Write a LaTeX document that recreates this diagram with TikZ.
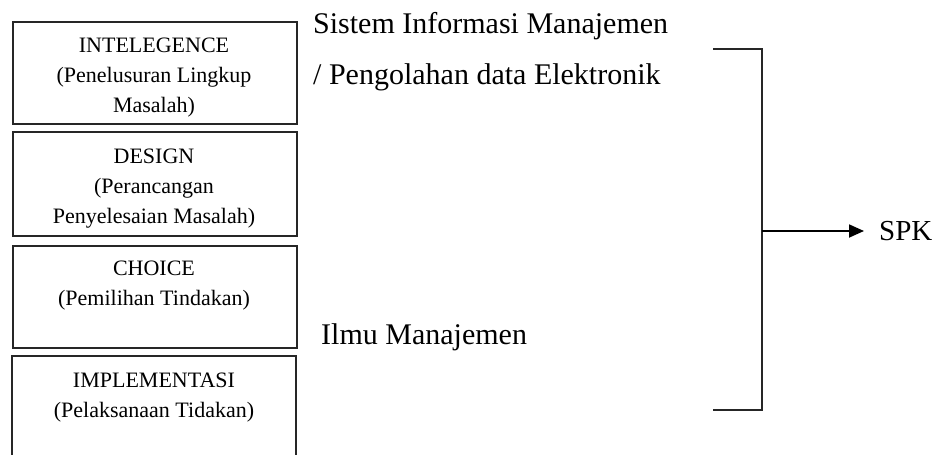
\documentclass[tikz,border=0pt]{standalone}
\usepackage{fontspec}
\setmainfont{Liberation Serif}
\usetikzlibrary{arrows.meta}
\begin{document}
\begin{tikzpicture}[x=1pt,y=-1pt,
  boxline/.style={draw=black!85, line width=1.8pt},
  boxtext/.style={anchor=base, inner sep=0pt, font=\fontsize{22}{30}\selectfont},
  bigtext/.style={anchor=base west, inner sep=0pt, font=\fontsize{30}{36}\selectfont},
  brk/.style={draw=black!85, line width=1.8pt},
  arr/.style={draw=black, line width=1.8pt, -{Triangle[length=15pt,width=13pt]}}]
\useasboundingbox (0,0) rectangle (935,455);
% boxes
\node[boxline, minimum width=284pt, minimum height=102pt, anchor=north west, inner sep=0pt] (b1) at (12,21) {};
\node[boxline, minimum width=284pt, minimum height=104pt, anchor=north west, inner sep=0pt] (b2) at (12,131) {};
\node[boxline, minimum width=284pt, minimum height=102pt, anchor=north west, inner sep=0pt] (b3) at (12,245) {};
\coordinate (b4bl) at (12,456);
\coordinate (b4tl) at (12,356);
\coordinate (b4tr) at (296,356);
\coordinate (b4br) at (296,456);
\draw[boxline] (b4bl) -- (b4tl) -- (b4tr) -- (b4br);
% box texts
\renewcommand{\arraystretch}{1}
\setlength{\tabcolsep}{0pt}
\node[boxtext] (t1) at (154,52) {\begin{tabular}[t]{c}INTELEGENCE\\(Penelusuran Lingkup\\Masalah)\end{tabular}};
\node[boxtext] (t2) at (154,163) {\begin{tabular}[t]{c}DESIGN\\(Perancangan\\Penyelesaian Masalah)\end{tabular}};
\node[boxtext] (t3) at (154,275) {\begin{tabular}[t]{c}CHOICE\\(Pemilihan Tindakan)\end{tabular}};
\node[boxtext] (t4) at (154,387) {\begin{tabular}[t]{c}IMPLEMENTASI\\(Pelaksanaan Tidakan)\end{tabular}};
% big texts
\node[bigtext] (s1) at (313,33) {Sistem Informasi Manajemen};
\node[bigtext] (s2) at (313,84) {/ Pengolahan data Elektronik};
\node[bigtext] (s3) at (321,344) {Ilmu Manajemen};
\node[anchor=base west, inner sep=0pt, font=\fontsize{29}{35}\selectfont] (spk) at (879,240) {SPK};
% bracket
\coordinate (bt0) at (713,49);
\coordinate (bt1) at (762,49);
\coordinate (bb1) at (762,410);
\coordinate (bb0) at (713,410);
\coordinate (bm) at (762,231);
\coordinate (tip) at (864,231);
\draw[brk] (bt0) -- (bt1) -- (bb1) -- (bb0);
\draw[arr] (bm) -- (tip);
\end{tikzpicture}
\end{document}
